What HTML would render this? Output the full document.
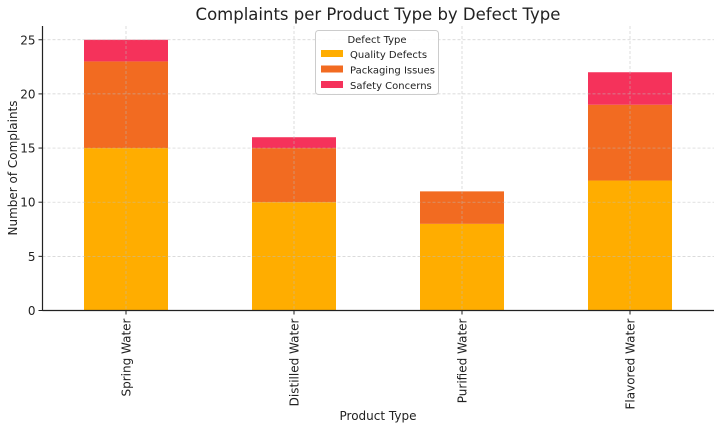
<!DOCTYPE html>
<html><head><meta charset="utf-8"><style>
body{margin:0;background:#fff;font-family:"DejaVu Sans","Liberation Sans",sans-serif}
</style></head><body>
<svg id="chart" width="722" height="430" xmlns="http://www.w3.org/2000/svg" font-family="DejaVu Sans, Liberation Sans, sans-serif">
<text x="378" y="20" text-anchor="middle" font-size="16.5" fill="#222">Complaints per Product Type by Defect Type</text>
<g id="bars"></g>
<g id="grid"></g>
<g id="axes"></g>
<text x="378" y="420" text-anchor="middle" font-size="12" fill="#222">Product Type</text>
<text transform="translate(17,168) rotate(-90)" text-anchor="middle" font-size="12" fill="#222">Number of Complaints</text>
<g>
<rect x="315.5" y="30.5" width="123" height="64" rx="3" fill="#fff" fill-opacity="0.85" stroke="#ccc"/>
<text x="377" y="43" text-anchor="middle" font-size="10" fill="#222">Defect Type</text>
<g id="legend-entries"></g>
</g>
</svg>
<script>
const categories=["Spring Water","Distilled Water","Purified Water","Flavored Water"];
const seriesNames=["Quality Defects","Packaging Issues","Safety Concerns"];
const quality=[15,10,8,12];
const packaging=[8,5,3,7];
const safety=[2,1,0,3];
const yTicks=[0,5,10,15,20,25];
const colors=["#FFAD00","#F26B21","#F5325B"];
const NS="http://www.w3.org/2000/svg";
const x0=42.5,x1=714,y0=310.5,pxPer=10.83,step=168,bw=84;
const y=v=>y0-v*pxPer;
const xc=i=>126+i*step;
function mk(tag,attrs,parent){const e=document.createElementNS(NS,tag);for(const k in attrs)e.setAttribute(k,attrs[k]);parent.appendChild(e);return e;}
const bars=document.getElementById('bars'),grid=document.getElementById('grid'),axes=document.getElementById('axes'),leg=document.getElementById('legend-entries');
const series=[quality,packaging,safety];
categories.forEach((c,i)=>{
  let base=0;
  series.forEach((s,j)=>{
    const v=s[i];
    if(v>0){
      const r=mk('rect',{x:xc(i)-bw/2,y:y(base+v),width:bw,height:v*pxPer,fill:colors[j]},bars);
      
      
    }
    base+=v;
  });
  const gl=mk('line',{x1:xc(i),x2:xc(i),y1:26,y2:y0,stroke:'#bbb','stroke-width':0.7,'stroke-dasharray':'3,2','stroke-opacity':0.7},grid);
  
  
  mk('line',{x1:xc(i),x2:xc(i),y1:y0,y2:y0+4,stroke:'#222'},axes);
  const t=mk('text',{transform:`translate(${xc(i)+4.5},${y0+8}) rotate(-90)`,'text-anchor':'end','font-size':12,fill:'#222'},axes);
  t.textContent=c;
  
  
});
yTicks.forEach(v=>{
  const gl=mk('line',{x1:x0,x2:x1,y1:y(v),y2:y(v),stroke:'#bbb','stroke-width':0.7,'stroke-dasharray':'3,2','stroke-opacity':0.7},grid);
  
  
  mk('line',{x1:x0-4,x2:x0,y1:y(v),y2:y(v),stroke:'#222'},axes);
  const t=mk('text',{x:x0-7,y:y(v)+4.5,'text-anchor':'end','font-size':12,fill:'#222'},axes);
  t.textContent=v;
  
  
});
mk('line',{x1:x0,x2:x0,y1:26,y2:y0,stroke:'#222','stroke-width':1.2},axes);
mk('line',{x1:x0,x2:x1,y1:y0,y2:y0,stroke:'#222','stroke-width':1.2},axes);
seriesNames.forEach((n,j)=>{
  const g=mk('g',{},leg);
  
  
  mk('rect',{x:321,y:50+j*15.5,width:22,height:7,fill:colors[j]},g);
  const t=mk('text',{x:350,y:58+j*15.5,'font-size':10,fill:'#222'},g);
  t.textContent=n;
});
</script>
</body></html>
